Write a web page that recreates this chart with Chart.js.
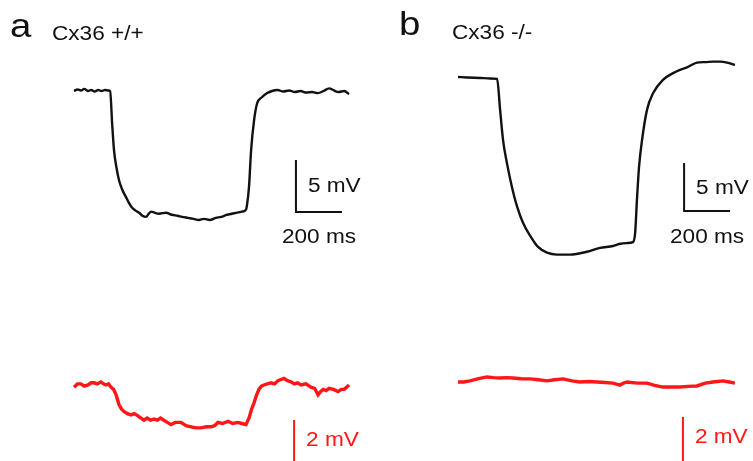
<!DOCTYPE html>
<html lang="en">
<head>
    <meta charset="UTF-8">
    <title>Cx36 coupling traces</title>
    <script src="https://cdn.jsdelivr.net/npm/chart.js"></script>
    <style>
        body { margin: 0; background: #fff; }
        .wrap { position: relative; width: 753px; height: 461px; overflow: hidden; }
        canvas { position: absolute; top: 0; }
        #panelA { left: 0; }
        #panelB { left: 376px; }
    </style>
</head>
<body>
<div class="wrap">
    <canvas id="panelA" width="376" height="461"></canvas>
    <canvas id="panelB" width="377" height="461"></canvas>
</div>

<script>
    // --- data (time in ms, voltage in mV relative to baseline) ---
    const panelLetters = ['a', 'b'];
    const panelTitles = ['Cx36 +/+', 'Cx36 -/-'];
    const barLabels = ['5 mV', '200 ms', '2 mV'];
    const barSizes = [5, 200, 2]; // mV, ms, mV

    // panel a, injected cell (black)
    const aBlackT = [0, 15, 30, 45, 60, 75, 90, 105, 120, 135, 150, 157, 166, 174, 185, 196, 210, 226, 240, 252,
        268, 283, 298, 313, 325, 335, 350, 370, 400, 425, 450, 470, 495, 520, 543, 565, 590, 617, 640, 665,
        687, 710, 730, 748, 752, 761, 770, 783, 796, 817, 840, 861, 885, 910, 935, 960, 985, 1010, 1035, 1060,
        1085, 1109, 1130, 1150, 1175, 1196];
    const aBlackV = [0.0, 0.15, 0.05, 0.2, 0.0, 0.1, -0.05, 0.1, 0.0, 0.1, 0.05, 0.0, -3.2, -5.7, -7.4, -8.6, -9.5, -10.2, -10.8, -11.2,
        -11.5, -11.7, -12.0, -12.1, -11.8, -11.6, -11.7, -11.8, -11.7, -11.9, -12.0, -12.1, -12.2, -12.3, -12.4, -12.3, -12.4, -12.2, -12.1, -11.9,
        -11.8, -11.7, -11.6, -11.4, -11.0, -9.2, -5.7, -2.8, -1.2, -0.6, -0.2, 0.0, 0.1, -0.05, 0.05, -0.1, 0.0, -0.15, -0.1, -0.2,
        0.0, 0.25, 0.05, -0.1, 0.0, -0.3];

    // panel a, coupled cell (red)
    const aRedT = [0, 15, 30, 45, 61, 75, 87, 100, 117, 128, 139, 150, 161, 172, 183, 196, 207, 217, 232, 248,
        262, 278, 290, 304, 318, 333, 348, 362, 376, 391, 406, 422, 440, 465, 487, 509, 530, 552, 575, 596,
        611, 626, 645, 670, 690, 713, 730, 748, 761, 772, 783, 794, 804, 815, 826, 840, 857, 872, 887, 900,
        913, 928, 943, 958, 972, 987, 1008, 1030, 1046, 1061, 1072, 1083, 1096, 1109, 1128, 1148, 1162, 1174, 1185, 1196];
    const aRedV = [-0.1, 0.05, 0.05, -0.05, 0.0, 0.1, 0.1, 0.05, 0.14, 0.05, 0.0, 0.05, -0.1, -0.2, -0.45, -0.9, -1.1, -1.2, -1.3, -1.36,
        -1.3, -1.4, -1.5, -1.6, -1.5, -1.6, -1.55, -1.6, -1.5, -1.6, -1.7, -1.8, -1.7, -1.7, -1.85, -1.9, -1.95, -1.95, -1.9, -1.9,
        -1.85, -1.7, -1.75, -1.65, -1.75, -1.7, -1.75, -1.8, -1.5, -1.1, -0.8, -0.45, -0.2, -0.05, 0.0, 0.05, 0.1, 0.05, 0.2, 0.25,
        0.3, 0.2, 0.15, 0.05, 0.1, 0.0, 0.05, -0.1, -0.15, -0.45, -0.3, -0.2, -0.25, -0.15, -0.2, -0.3, -0.2, -0.2, -0.1, 0.0];

    // panel b, injected cell (black)
    const bBlackT = [0, 40, 96, 140, 170, 183, 196, 213, 235, 257, 283, 313, 348, 387, 430, 487, 561, 617, 674, 700,
        735, 761, 770, 778, 787, 800, 822, 848, 891, 935, 965, 996, 1039, 1075, 1109, 1140, 1170, 1204];
    const bBlackV = [0.0, -0.05, -0.1, -0.15, -0.2, -3.4, -6.6, -9.0, -11.5, -13.5, -15.2, -16.5, -17.7, -18.3, -18.5, -18.5, -18.2, -17.8, -17.6, -17.4,
        -17.3, -17.2, -16.3, -12.8, -9.4, -6.6, -3.4, -1.7, -0.3, 0.4, 0.75, 1.0, 1.5, 1.55, 1.6, 1.6, 1.5, 1.25];

    // panel b, coupled cell (red)
    const bRedT = [0, 25, 52, 90, 126, 155, 183, 210, 239, 275, 313, 350, 387, 420, 457, 495, 530, 570, 604, 640,
        674, 704, 720, 735, 780, 822, 855, 891, 930, 965, 1000, 1039, 1075, 1109, 1152, 1180, 1204];
    const bRedV = [0.0, 0.0, 0.05, 0.15, 0.23, 0.2, 0.18, 0.2, 0.18, 0.15, 0.14, 0.1, 0.05, 0.1, 0.14, 0.05, 0.0, 0.02, 0.0, -0.02,
        -0.05, -0.14, -0.05, 0.0, -0.05, -0.05, -0.15, -0.23, -0.22, -0.23, -0.2, -0.18, -0.05, 0.0, 0.05, 0.0, -0.05];

    // --- layout (pixels inside each canvas) ---
    const H = 461;
    const PX_PER_MS = 0.23;
    const RED = 'rgb(255,22,22)';
    const INK = '#111';

    function txt(ctx, s, x, y, size, color, align, base) {
        ctx.save();
        ctx.font = size + 'px "Liberation Sans", Arial, sans-serif';
        ctx.fillStyle = color;
        ctx.textAlign = align;
        ctx.textBaseline = base;
        ctx.translate(x, y);
        ctx.scale(1.13, 1);
        ctx.fillText(s, 0, 0);
        ctx.restore();
    }

    const annot = {
        id: 'annot',
        afterDatasetsDraw(chart, args, o) {
            const ctx = chart.ctx, x = chart.scales.x, yb = chart.scales.yb, yr = chart.scales.yr;
            txt(ctx, o.letter, o.letterX, o.letterY, 34, INK, 'left', 'alphabetic');
            txt(ctx, o.title, o.titleX, o.titleY, 20, INK, 'left', 'alphabetic');

            // black scale bar
            const bx = x.getPixelForValue(o.barT), by = yb.getPixelForValue(o.barV);
            const top = yb.getPixelForValue(o.barV + barSizes[0]);
            const right = x.getPixelForValue(o.barT + barSizes[1]);
            ctx.save();
            ctx.strokeStyle = INK;
            ctx.lineWidth = 2;
            ctx.beginPath();
            ctx.moveTo(bx, top);
            ctx.lineTo(bx, by);
            ctx.lineTo(right, by);
            ctx.stroke();
            ctx.restore();
            txt(ctx, barLabels[0], bx + 12, (top + by) / 2 + 1, 20, INK, 'left', 'middle');
            txt(ctx, barLabels[1], (bx + right) / 2, by + 26, 20, INK, 'center', 'middle');

            // red scale bar
            const rx = x.getPixelForValue(o.redT), rt = yr.getPixelForValue(o.redV);
            const rb = yr.getPixelForValue(o.redV - barSizes[2]);
            ctx.save();
            ctx.strokeStyle = RED;
            ctx.lineWidth = 2;
            ctx.beginPath();
            ctx.moveTo(rx, rt);
            ctx.lineTo(rx, rb);
            ctx.stroke();
            ctx.restore();
            txt(ctx, barLabels[2], rx + 12, rt + 21, 20, RED, 'left', 'middle');
        }
    };

    function pts(t, v) {
        return t.map((tt, i) => ({ x: tt, y: v[i] }));
    }

    function makePanel(id, W, L, blackT, blackV, redT, redV) {
        new Chart(document.getElementById(id), {
            type: 'line',
            data: {
                datasets: [
                    { data: pts(blackT, blackV), yAxisID: 'yb', borderColor: INK, borderWidth: 2.4,
                      pointRadius: 0, cubicInterpolationMode: 'monotone' },
                    { data: pts(redT, redV), yAxisID: 'yr', borderColor: RED, borderWidth: 3.4,
                      pointRadius: 0, tension: 0 }
                ]
            },
            options: {
                responsive: false,
                animation: false,
                devicePixelRatio: 1,
                layout: { padding: 0 },
                plugins: { legend: { display: false }, tooltip: { enabled: false }, annot: L.annot },
                scales: {
                    x: { type: 'linear', display: false,
                         min: -L.x0 / PX_PER_MS, max: (W - L.x0) / PX_PER_MS },
                    yb: { type: 'linear', display: false,
                          max: L.blackBase / L.blackScale, min: -(H - L.blackBase) / L.blackScale },
                    yr: { type: 'linear', display: false,
                          max: L.redBase / L.redScale, min: -(H - L.redBase) / L.redScale }
                }
            },
            plugins: [annot]
        });
    }

    makePanel('panelA', 376, {
        x0: 74, blackBase: 91, blackScale: 10.4, redBase: 385, redScale: 22,
        annot: { letter: panelLetters[0], letterX: 10, letterY: 37, title: panelTitles[0], titleX: 52, titleY: 40,
                 barT: 965, barV: -11.63, redT: 957, redV: -1.59 }
    }, aBlackT, aBlackV, aRedT, aRedV);

    makePanel('panelB', 377, {
        x0: 82, blackBase: 77, blackScale: 9.6, redBase: 382, redScale: 22,
        annot: { letter: panelLetters[1], letterX: 23, letterY: 35, title: panelTitles[1], titleX: 76, titleY: 39,
                 barT: 983, barV: -13.96, redT: 978, redV: -1.59 }
    }, bBlackT, bBlackV, bRedT, bRedV);
</script>
</body>
</html>
